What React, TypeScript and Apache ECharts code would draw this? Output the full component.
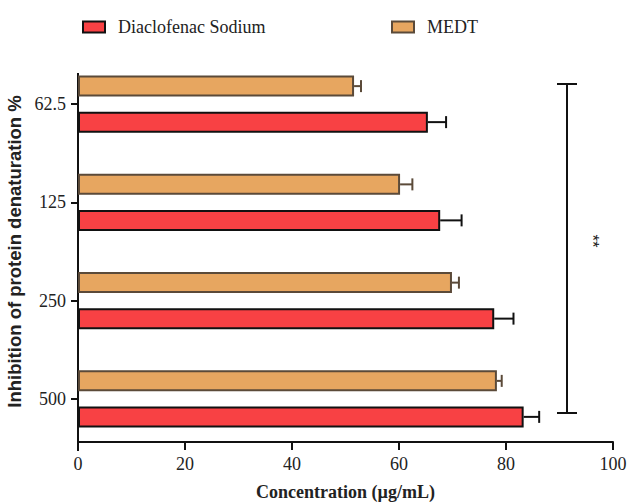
import React, { useEffect, useRef } from "react";
import * as echarts from "echarts";

const categories = ["62.5", "125", "250", "500"];
const diclofenacValues = [65.4, 67.7, 77.8, 83.3];
const diclofenacErrors = [3.4, 4.0, 3.6, 2.9];
const medtValues = [51.6, 60.2, 69.9, 78.3];
const medtErrors = [1.3, 2.3, 1.3, 0.9];
const xTicks = { min: 0, max: 100, interval: 20 };

const SERIF = "Liberation Serif";
const SANS = "Liberation Sans";

const RED = "#F84144";
const ORANGE = "#E7A660";
const BROWN = "#5B4A39";

function errorSeries(name: string, values: number[], errs: number[], off: number, color: string) {
  return {
    type: "custom",
    name: name + " err",
    z: 5,
    encode: { x: 1, y: 0 },
    data: values.map((v, i) => [i, v, errs[i]]),
    renderItem: (params: any, api: any) => {
      const idx = api.value(0);
      const v = api.value(1);
      const e = api.value(2);
      const s = api.coord([v, idx]);
      const t = api.coord([v + e, idx]);
      const y = s[1] + off;
      return {
        type: "group",
        children: [
          { type: "line", shape: { x1: s[0], y1: y, x2: t[0], y2: y }, style: { stroke: color, lineWidth: 2 } },
          { type: "line", shape: { x1: t[0], y1: y - 6, x2: t[0], y2: y + 6 }, style: { stroke: color, lineWidth: 2 } },
        ],
      };
    },
  };
}

export default function App() {
  const ref = useRef<HTMLDivElement>(null);
  useEffect(() => {
    if (!ref.current) return;
    const chart = echarts.init(ref.current, null, { renderer: "svg" });
    chart.setOption({
      animation: false,
      backgroundColor: "#fff",
      legend: [
        {
          data: ["Diaclofenac Sodium"],
          left: 82,
          top: 18,
          padding: 0,
          itemWidth: 22,
          itemHeight: 11,
          icon: "rect",
          textStyle: { fontFamily: SERIF, fontSize: 18, color: "#222", padding: [0, 0, 0, 8] },
        },
        {
          data: ["MEDT"],
          left: 391,
          top: 18,
          padding: 0,
          itemWidth: 22,
          itemHeight: 11,
          icon: "rect",
          textStyle: { fontFamily: SERIF, fontSize: 18, color: "#222", padding: [0, 0, 0, 8] },
        },
      ],
      grid: { left: 78, right: 17, top: 55, bottom: 56, containLabel: false, outerBoundsMode: "none" },
      xAxis: {
        type: "value",
        min: xTicks.min,
        max: xTicks.max,
        interval: xTicks.interval,
        position: "bottom",
        offset: -6,
        axisLine: { show: true, lineStyle: { color: "#111", width: 2 } },
        axisTick: { show: true, length: 8, lineStyle: { color: "#111", width: 2 } },
        splitLine: { show: false },
        axisLabel: { fontFamily: SERIF, fontSize: 18, color: "#222", margin: 13 },
        name: "Concentration (µg/mL)",
        nameLocation: "middle",
        nameGap: 41,
        nameTextStyle: { fontFamily: SERIF, fontSize: 18, fontWeight: "bold", color: "#222" },
      },
      yAxis: {
        type: "category",
        data: categories,
        inverse: true,
        axisLine: { show: false },
        axisTick: { show: true, alignWithLabel: true, length: 7, lineStyle: { color: "#111", width: 2 } },
        axisLabel: { fontFamily: SERIF, fontSize: 18, color: "#222", margin: 12 },
        name: "Inhibition of protein denaturation %",
        nameLocation: "middle",
        nameRotate: 90,
        nameGap: 54,
        nameTextStyle: { fontFamily: SANS, fontSize: 18.5, fontWeight: "bold", color: "#222" },
      },
      series: [
        {
          type: "bar",
          name: "MEDT",
          data: medtValues,
          barWidth: 21,
          barGap: "73%",
          itemStyle: { color: ORANGE, borderColor: BROWN, borderWidth: 2 },
        },
        {
          type: "bar",
          name: "Diaclofenac Sodium",
          data: diclofenacValues,
          barWidth: 21,
          barGap: "73%",
          itemStyle: { color: RED, borderColor: "#111", borderWidth: 2 },
        },
        errorSeries("MEDT", medtValues, medtErrors, -18, BROWN),
        errorSeries("Diaclofenac Sodium", diclofenacValues, diclofenacErrors, 18, "#111"),
      ],
      graphic: [
        { type: "line", shape: { x1: 78, y1: 73, x2: 78, y2: 451 }, style: { stroke: "#111", lineWidth: 2 } },
        { type: "line", shape: { x1: 567, y1: 84, x2: 567, y2: 413 }, style: { stroke: "#111", lineWidth: 2 } },
        { type: "line", shape: { x1: 557, y1: 84, x2: 577, y2: 84 }, style: { stroke: "#111", lineWidth: 2 } },
        { type: "line", shape: { x1: 557, y1: 413, x2: 577, y2: 413 }, style: { stroke: "#111", lineWidth: 2 } },
        {
          type: "text",
          x: 592,
          y: 241,
          rotation: -Math.PI / 2,
          style: { text: "**", fontFamily: SANS, fontSize: 17, fill: "#222", align: "center", verticalAlign: "middle" },
        },
      ],
    });
    return () => chart.dispose();
  }, []);
  return <div ref={ref} style={{ width: 630, height: 504, position: "absolute", left: 0, top: 0 }} />;
}
